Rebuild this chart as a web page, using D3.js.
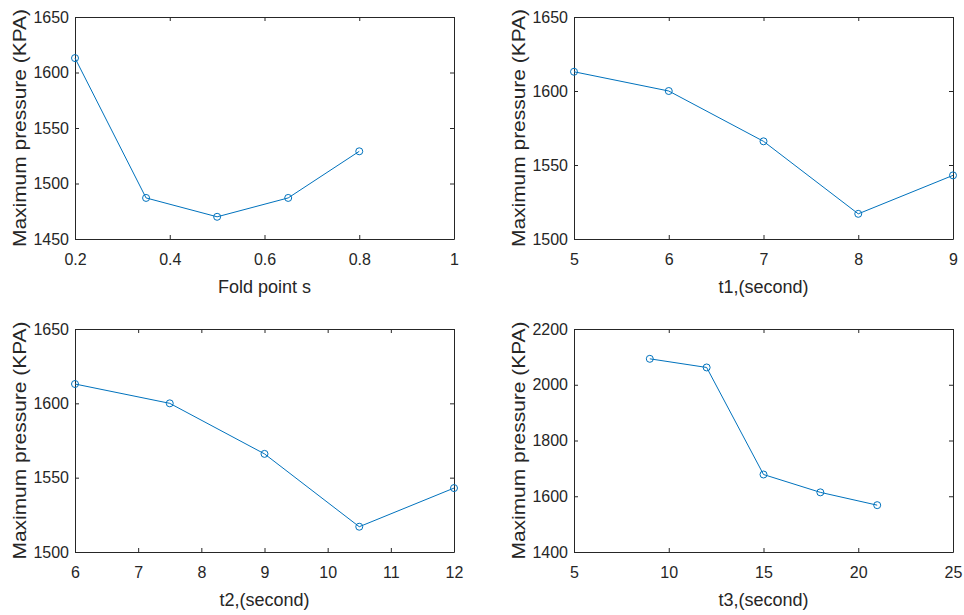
<!DOCTYPE html>
<html>
<head>
<meta charset="utf-8">
<script src="https://cdn.jsdelivr.net/npm/d3@7"></script>
<style>
  html, body { margin: 0; padding: 0; background: #fff; }
  svg { display: block; }
  text { font-family: "Liberation Sans", Arial, Helvetica, sans-serif; fill: #262626; }
</style>
</head>
<body>
<svg id="chart" width="964" height="615"></svg>
<script>
// Fold point study
const foldPoints = [0.2, 0.35, 0.5, 0.65, 0.8];
const pressureFold = [1613, 1487, 1470, 1487, 1529];
const foldXTicks = [0.2, 0.4, 0.6, 0.8, 1];
const foldYTicks = [1450, 1500, 1550, 1600, 1650];

// t1 study
const t1Values = [5, 6, 7, 8, 9];
const pressureT1 = [1613, 1600, 1566, 1517, 1543];
const t1XTicks = [5, 6, 7, 8, 9];
const t1YTicks = [1500, 1550, 1600, 1650];

// t2 study
const t2Values = [6, 7.5, 9, 10.5, 12];
const pressureT2 = [1613, 1600, 1566, 1517, 1543];
const t2XTicks = [6, 7, 8, 9, 10, 11, 12];
const t2YTicks = [1500, 1550, 1600, 1650];

// t3 study
const t3Values = [9, 12, 15, 18, 21];
const pressureT3 = [2093, 2062, 1678, 1614, 1568];
const t3XTicks = [5, 10, 15, 20, 25];
const t3YTicks = [1400, 1600, 1800, 2000, 2200];

const yTitle = "Maximum pressure (KPA)";
const lineColor = "#0072BD";
const axisColor = "#262626";

const panels = [
  { xs: foldPoints, ys: pressureFold, xTicks: foldXTicks, yTicks: foldYTicks,
    xTitle: "Fold point s", left: 75, top: 17, right: 454, bottom: 239 },
  { xs: t1Values, ys: pressureT1, xTicks: t1XTicks, yTicks: t1YTicks,
    xTitle: "t1,(second)", left: 574, top: 17, right: 953, bottom: 239 },
  { xs: t2Values, ys: pressureT2, xTicks: t2XTicks, yTicks: t2YTicks,
    xTitle: "t2,(second)", left: 75, top: 329, right: 454, bottom: 552 },
  { xs: t3Values, ys: pressureT3, xTicks: t3XTicks, yTicks: t3YTicks,
    xTitle: "t3,(second)", left: 574, top: 329, right: 953, bottom: 552 }
];

const svg = d3.select("#chart");

panels.forEach(p => {
  const w = p.right - p.left, h = p.bottom - p.top;
  const x = d3.scaleLinear().domain(d3.extent(p.xTicks)).range([0, w]);
  const y = d3.scaleLinear().domain(d3.extent(p.yTicks)).range([h, 0]);

  const g = svg.append("g").attr("transform", `translate(${p.left},${p.top})`);

  const styleAxis = sel => {
    sel.selectAll("path.domain").attr("stroke", axisColor).attr("stroke-width", 1);
    sel.selectAll(".tick line").attr("stroke", axisColor).attr("stroke-width", 1);
    sel.selectAll(".tick text").attr("fill", axisColor)
      .style("font-family", "'Liberation Sans', Arial, sans-serif").style("font-size", "16px");
  };

  // bottom axis with labels, ticks pointing inward
  g.append("g").attr("transform", `translate(0,${h})`)
    .call(d3.axisBottom(x).tickValues(p.xTicks).tickFormat(d3.format("~g"))
      .tickSizeInner(-4).tickSizeOuter(0).tickPadding(15))
    .call(styleAxis);
  // top axis, ticks only
  g.append("g")
    .call(d3.axisTop(x).tickValues(p.xTicks).tickFormat("")
      .tickSizeInner(-4).tickSizeOuter(0))
    .call(styleAxis);
  // left axis with labels
  g.append("g")
    .call(d3.axisLeft(y).tickValues(p.yTicks).tickFormat(d3.format("d"))
      .tickSizeInner(-4).tickSizeOuter(0).tickPadding(6))
    .call(styleAxis);
  // right axis, ticks only
  g.append("g").attr("transform", `translate(${w},0)`)
    .call(d3.axisRight(y).tickValues(p.yTicks).tickFormat("")
      .tickSizeInner(-4).tickSizeOuter(0))
    .call(styleAxis);

  // axis titles
  g.append("text")
    .attr("x", w / 2).attr("y", h + 54)
    .attr("text-anchor", "middle")
    .style("font-size", "18px")
    .text(p.xTitle);

  g.append("text")
    .attr("transform", `translate(-49,${h / 2}) rotate(-90)`)
    .attr("text-anchor", "middle")
    .attr("textLength", 238)
    .attr("lengthAdjust", "spacingAndGlyphs")
    .style("font-size", "18.5px")
    .text(yTitle);

  // data line and circle markers
  const pts = p.xs.map((v, i) => [v, p.ys[i]]);
  g.append("path")
    .datum(pts)
    .attr("fill", "none")
    .attr("stroke", lineColor)
    .attr("stroke-width", 1)
    .attr("d", d3.line().x(d => x(d[0])).y(d => y(d[1])));

  g.selectAll("circle.marker")
    .data(pts)
    .join("circle")
    .attr("class", "marker")
    .attr("cx", d => x(d[0]))
    .attr("cy", d => y(d[1]))
    .attr("r", 3.5)
    .attr("fill", "none")
    .attr("stroke", lineColor)
    .attr("stroke-width", 1);
});
</script>
</body>
</html>
